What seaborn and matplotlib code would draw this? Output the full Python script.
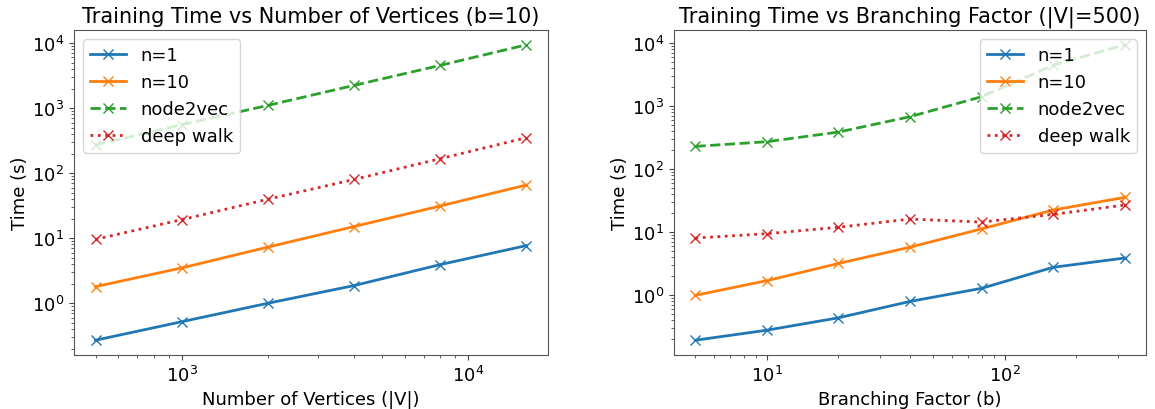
import matplotlib
matplotlib.use("Agg")
import matplotlib.pyplot as plt
import seaborn as sns
import pandas as pd

vertices = [500, 1000, 2000, 4000, 8000, 16000]
v_n1 = [0.27, 0.52, 1.0, 1.87, 3.93, 7.7]
v_n10 = [1.8, 3.49, 7.3, 15.1, 31.3, 65.8]
v_node2vec = [271, 556, 1100, 2237, 4540, 9410]
v_deepwalk = [9.6, 19.3, 39.7, 80, 167, 351]

branching = [5, 10, 20, 40, 80, 160, 320]
b_n1 = [0.194, 0.28, 0.44, 0.80, 1.29, 2.78, 3.9]
b_n10 = [1.0, 1.71, 3.2, 5.8, 11.3, 22.5, 35.7]
b_node2vec = [230, 273, 388, 680, 1410, 4430, 9400]
b_deepwalk = [8.1, 9.5, 12.0, 16.2, 14.5, 19.2, 27]

labels = ["n=1", "n=10", "node2vec", "deep walk"]
colors = ["#1f77b4", "#ff7f0e", "#2ca02c", "#d62728"]
styles = ["-", "-", "--", ":"]

plt.rcParams["font.family"] = ["DejaVu Sans"]
fig = plt.figure(figsize=(11.55, 4.1), dpi=100)
W, H = 1155.0, 410.0
ax1 = fig.add_axes([74 / W, 1 - 356 / H, 474 / W, 325 / H])
ax2 = fig.add_axes([674 / W, 1 - 356 / H, 472 / W, 325 / H])

def draw(ax, x, series, title, xlabel, legend_loc):
    for lab, y, c, ls in zip(labels, series, colors, styles):
        df = pd.DataFrame({"x": x, "y": y})
        sns.lineplot(data=df, x="x", y="y", ax=ax, color=c, linestyle=ls,
                     marker="x", markersize=7, linewidth=2, label=lab,
                     markeredgecolor=c, markeredgewidth=1)
    ax.set_xscale("log")
    ax.set_yscale("log")
    ax.set_title(title, fontsize=15)
    ax.set_xlabel(xlabel, fontsize=13)
    ax.set_ylabel("Time (s)", fontsize=13, labelpad=2)
    ax.tick_params(labelsize=13, colors="#444444", labelcolor="black")
    ax.tick_params(which="minor", colors="#444444")
    for sp in ax.spines.values():
        sp.set_color("#555555")
    ax.legend(loc=legend_loc, fontsize=13, framealpha=0.8)

draw(ax1, vertices, [v_n1, v_n10, v_node2vec, v_deepwalk],
     "Training Time vs Number of Vertices (b=10)", "Number of Vertices (|V|)", "upper left")
draw(ax2, branching, [b_n1, b_n10, b_node2vec, b_deepwalk],
     "Training Time vs Branching Factor (|V|=500)", "Branching Factor (b)", "upper right")

fig.savefig("out.png", dpi=100)
